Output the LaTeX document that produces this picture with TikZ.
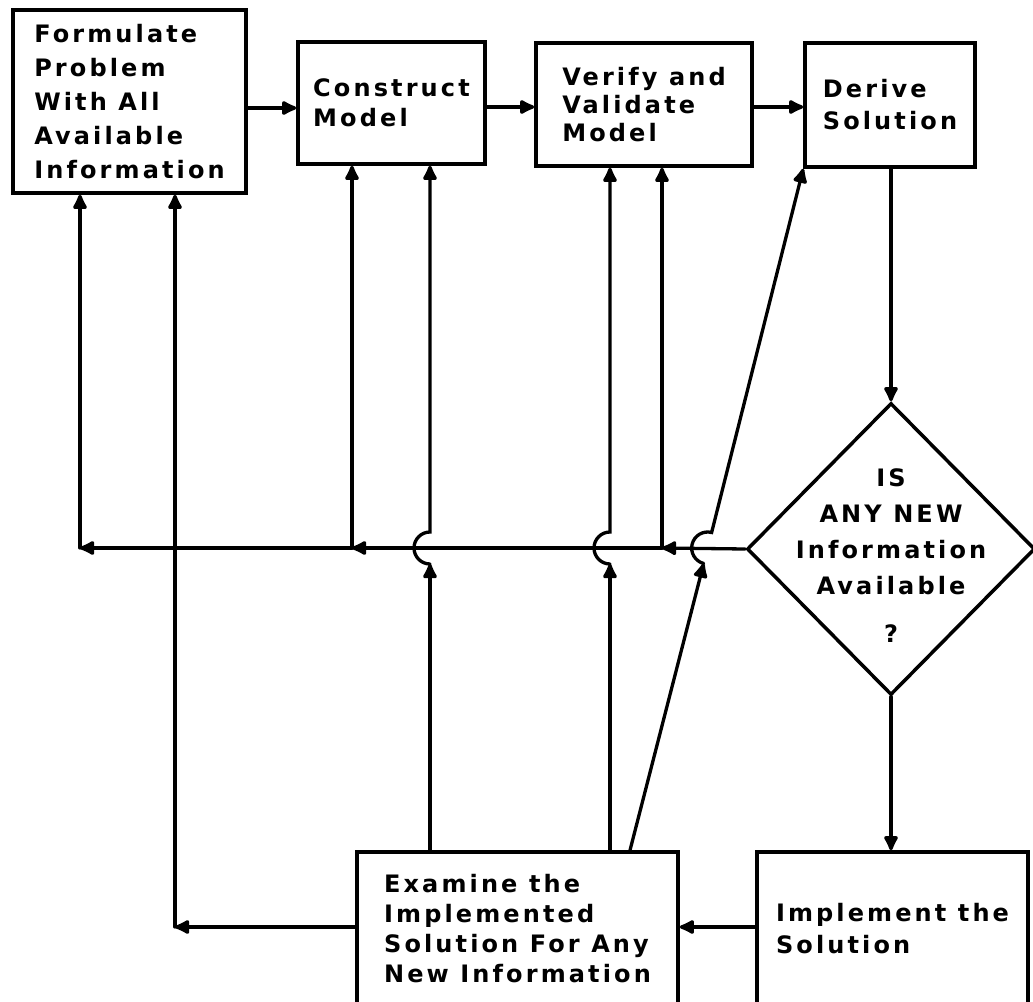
\documentclass[tikz,border=0pt]{standalone}
\usepackage{fontspec}
\setmainfont{DejaVu Sans}[LetterSpace=13]
\usetikzlibrary{shapes.geometric,arrows.meta}
\begin{document}
\begin{tikzpicture}[x=1pt,y=-1pt,
  box/.style={draw, line width=3.5pt, align=left, inner sep=0pt},
  lbl/.style={font=\bfseries\fontsize{24}{#1}\selectfont},
  arr/.style={line width=3.3pt, line cap=round, -{Latex[length=18pt,width=17pt,round]}},
]
\clip (0,0) rectangle (1033,1001);
% boxes
\node[box, lbl=34, minimum width=233, minimum height=183] (F) at (129.5,101.5)
  {Formulate\\Problem\\With All\\Available\\Information};
\node[box, lbl=30, minimum width=187, minimum height=122] (C) at (391.5,103)
  {Construct\\Model};
\node[box, lbl=28, minimum width=216, minimum height=123] (V) at (644,104.5)
  {Verify and\\Validate\\Model};
\node[box, lbl=32, minimum width=170, minimum height=124] (D) at (890,105)
  {Derive\\Solution};
\node[draw, diamond, line width=3.5pt, minimum width=288, minimum height=292, inner sep=0pt] (dec) at (891,549) {};
\node[lbl=36, align=center] (dect) at (891,556)
  {IS\\ANY NEW\\Information\\Available\\[12pt]?};
\node[box, lbl=32, minimum width=271, minimum height=154] (I) at (892.5,929)
  {Implement the\\Solution};
\node[box, lbl=30, minimum width=321, minimum height=154] (E) at (517.5,929)
  {Examine the\\Implemented\\Solution For Any\\New Information};
% forward flow
\draw[arr] (F.east |- 0,108) -- (C.west |- 0,108);
\draw[arr] (C.east |- 0,107) -- (V.west |- 0,107);
\draw[arr] (V.east |- 0,107) -- (D.west |- 0,107);
\draw[arr] (dec.north |- D.south) -- (dec.north);
\draw[arr] (dec.south) -- (dec.south |- I.north);
\draw[arr] (I.west |- 0,927) -- (E.east |- 0,927);
% feedback from examine to formulate
\coordinate (k1) at (175,927);
\draw[arr] (E.west |- k1) -- (k1);
\draw[arr] (k1) -- (k1 |- F.south);
% feedback from decision
\coordinate (j1) at (662,548);
\coordinate (j2) at (352,548);
\coordinate (j3) at (80,548);
\draw[arr] (dec.west) -- (j1);
\draw[arr] (j1) -- (j2);
\draw[arr] (j2) -- (j3);
\draw[arr] (j1) -- (j1 |- V.south);
\draw[arr] (j2) -- (j2 |- C.south);
\draw[arr] (j3) -- (j3 |- F.south);
% risers from examine with hops
\coordinate (h1) at (430,564);
\coordinate (h2) at (610,564);
\coordinate (h3) at (703.7,563.5);
\draw[arr] (E.north -| h1) -- (h1);
\draw[arr] (h1) arc[start angle=90, end angle=270, radius=16] -- (h1 |- C.south);
\draw[arr] (E.north -| h2) -- (h2);
\draw[arr] (h2) arc[start angle=90, end angle=270, radius=16] -- (h2 |- V.south);
\draw[arr] (E.north -| 630,0) -- (h3);
\draw[arr] (h3) arc[start angle=104.33, end angle=284.33, radius=16] -- (D.south west);
\end{tikzpicture}
\end{document}
